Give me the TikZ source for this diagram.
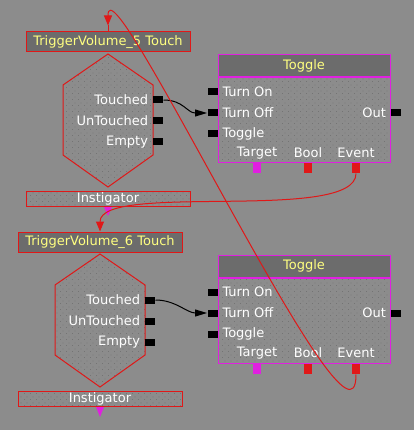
\documentclass[tikz,border=0pt]{standalone}
\usepackage{fontspec}
\setmainfont{DejaVu Sans}
\usetikzlibrary{positioning,arrows.meta,patterns}
\definecolor{kisbg}{HTML}{8C8C8C}
\definecolor{kistitle}{HTML}{6C6C6C}
\definecolor{kisdot}{HTML}{747474}
\definecolor{kisred}{HTML}{E01818}
\definecolor{kismag}{HTML}{E020E0}
\definecolor{kisyellow}{HTML}{FFFF80}
\pgfdeclarepatternformonly{kisdots}{\pgfqpoint{0pt}{0pt}}{\pgfqpoint{6pt}{6pt}}{\pgfqpoint{6pt}{6pt}}{%
  \pgfpathrectangle{\pgfqpoint{0pt}{0pt}}{\pgfqpoint{1pt}{1pt}}%
  \pgfpathrectangle{\pgfqpoint{3pt}{3pt}}{\pgfqpoint{1pt}{1pt}}%
  \pgfusepath{fill}}
\begin{document}
\begin{tikzpicture}[x=1pt, y=-1pt, line width=1pt, font=\fontsize{13}{15}\selectfont,
    title/.style = {draw, fill=kistitle, text=kisyellow, inner sep=0pt},
    body/.style = {draw, pattern=kisdots, pattern color=kisdot, inner sep=0pt},
    port/.style = {fill=black, minimum width=10pt, minimum height=7pt, inner sep=0pt},
    varport/.style = {minimum width=8pt, minimum height=10pt, inner sep=0pt},
    lbl/.style = {text=white, inner sep=1pt},
    redwire/.style = {draw=kisred, -{Triangle[length=10pt,width=8pt]}},
    blackwire/.style = {draw=black, -{Triangle[length=12pt,width=7pt]}}]
      \useasboundingbox (0,0) rectangle (414,430);
      \fill[kisbg] (0,0) rectangle (414,430);

      % TriggerVolume_5
      \node[title, draw=kisred, minimum width=164pt, minimum height=20pt] (t5) at (108,42) {TriggerVolume\_5 Touch};
      \coordinate[above=6pt of t5] (t5in);
      \draw[kisred, pattern=kisdots, pattern color=kisdot] (108,54) -- (153,85) -- (153,155) -- (108,187) -- (63,155) -- (63,85) -- cycle;
      \node[port] (tch5) at (158,100) {};
      \node[port] (utch5) at (158,121) {};
      \node[port] (emp5) at (158,142) {};
      \node[lbl] (tch5l) [left=3pt of tch5] {Touched};
      \node[lbl] (utch5l) [left=3pt of utch5] {UnTouched};
      \node[lbl] (emp5l) [left=3pt of emp5] {Empty};
      \node[body, draw=kisred, minimum width=164pt, minimum height=15pt, text=white] (ins5) at (108,198.5) {Instigator};
      \fill[kismag] (104,207) -- (112,207) -- (108,216) -- cycle;

      % Toggle 1
      \node[title, draw=kismag, minimum width=172pt, minimum height=22pt] (tg5) at (304,66) {Toggle};
      \node[body, draw=kismag, minimum width=172pt, minimum height=85pt] (tb5) at (304,120.5) {};
      \node[port] (on5) at (212.5,92) {};
      \node[port] (off5) at (212.5,113) {};
      \node[port] (tog5) at (212.5,134) {};
      \node[port] (out5) at (396,113) {};
      \node[lbl] (on5l) [right=3pt of on5] {Turn On};
      \node[lbl] (off5l) [right=3pt of off5] {Turn Off};
      \node[lbl] (tog5l) [right=3pt of tog5] {Toggle};
      \node[lbl] (out5l) [left=3pt of out5] {Out};
      \node[lbl] (tgt5l) at (257,153) {Target};
      \node[lbl] (bool5l) at (308,153) {Bool};
      \node[lbl] (ev5l) at (356,153) {Event};
      \node[varport, fill=kismag] (tgt5) at (257,168) {};
      \node[varport, fill=kisred] (bool5) at (308,168) {};
      \node[varport, fill=kisred] (ev5) at (356,168) {};

      % TriggerVolume_6
      \node[title, draw=kisred, minimum width=164pt, minimum height=20pt] (t6) at (100,242) {TriggerVolume\_6 Touch};
      \draw[kisred, pattern=kisdots, pattern color=kisdot] (100,254) -- (145,285) -- (145,355) -- (100,387) -- (55,355) -- (55,285) -- cycle;
      \node[port] (tch6) at (150,300) {};
      \node[port] (utch6) at (150,321) {};
      \node[port] (emp6) at (150,342) {};
      \node[lbl] (tch6l) [left=3pt of tch6] {Touched};
      \node[lbl] (utch6l) [left=3pt of utch6] {UnTouched};
      \node[lbl] (emp6l) [left=3pt of emp6] {Empty};
      \node[body, draw=kisred, minimum width=164pt, minimum height=15pt, text=white] (ins6) at (100,399) {Instigator};
      \fill[kismag] (96,407) -- (104,407) -- (100,417) -- cycle;

      % Toggle 2
      \node[title, draw=kismag, minimum width=172pt, minimum height=22pt] (tg6) at (304,266) {Toggle};
      \node[body, draw=kismag, minimum width=172pt, minimum height=85pt] (tb6) at (304,320.5) {};
      \node[port] (on6) at (212.5,292) {};
      \node[port] (off6) at (212.5,313) {};
      \node[port] (tog6) at (212.5,334) {};
      \node[port] (out6) at (396,313) {};
      \node[lbl] (on6l) [right=3pt of on6] {Turn On};
      \node[lbl] (off6l) [right=3pt of off6] {Turn Off};
      \node[lbl] (tog6l) [right=3pt of tog6] {Toggle};
      \node[lbl] (out6l) [left=3pt of out6] {Out};
      \node[lbl] (tgt6l) at (257,353) {Target};
      \node[lbl] (bool6l) at (308,353) {Bool};
      \node[lbl] (ev6l) at (356,353) {Event};
      \node[varport, fill=kismag] (tgt6) at (257,369) {};
      \node[varport, fill=kisred] (bool6) at (308,369) {};
      \node[varport, fill=kisred] (ev6) at (356,369) {};

      % wires
      \draw[blackwire] (tch5.east) .. controls +(20,0) and +(-20,0) .. (off5.west);
      \draw[blackwire] (tch6.east) .. controls +(20,0) and +(-20,0) .. (off6.west);
      \draw[redwire] (ev5.south) .. controls +(0,50) and +(0,-50) .. (t6.north);
      \draw[redwire] (ev6.south) .. controls +(0,110) and +(0,-75) .. (t5in);
      \draw[kisred] (t5in) -- (t5.north);
\end{tikzpicture}
\end{document}
